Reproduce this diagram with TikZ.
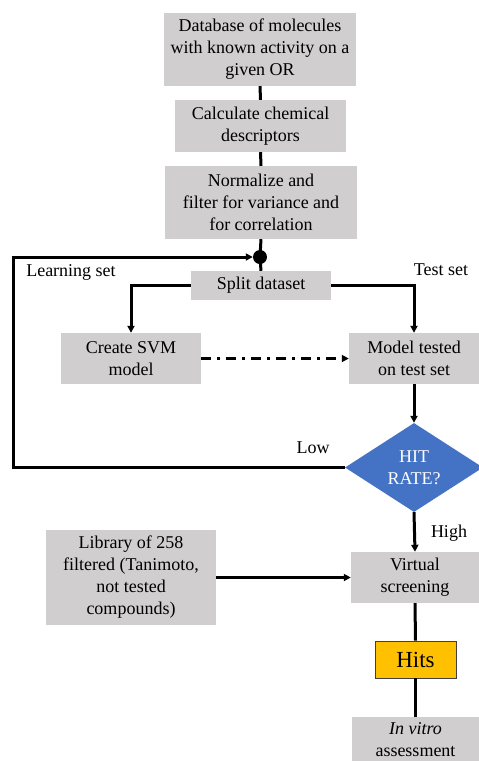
\documentclass[tikz,border=0pt]{standalone}
\usepackage{fontspec}
\setmainfont{Liberation Serif}
\usetikzlibrary{shapes.geometric,arrows.meta}
\definecolor{boxgray}{HTML}{D0CECE}
\definecolor{hitblue}{HTML}{4472C4}
\definecolor{hitsgold}{HTML}{FFC000}
\begin{document}
\begin{tikzpicture}[x=1pt,y=-1pt,
  txt/.style={font=\fontsize{18}{22}\selectfont},
  box/.style={txt, fill=boxgray, align=center, inner sep=0pt},
  lbl/.style={txt, inner sep=0pt},
  link/.style={line width=3pt},
  arr/.style={link, -{Triangle[length=7pt,width=7pt]}},
  dashdot/.style={dash pattern=on 10pt off 6pt on 3pt off 6pt}]
\clip (0,0) rectangle (479,761);
\useasboundingbox (0,0) rectangle (479,761);

% process boxes
\node[box, minimum width=192, minimum height=73] (db) at (260,49.5)
  {Database of molecules\\with known activity on a\\given OR};
\node[box, minimum width=171, minimum height=52] (calc) at (260.5,126)
  {Calculate chemical\\descriptors};
\node[box, minimum width=192, minimum height=73] (norm) at (261,202.5)
  {Normalize and\\filter for variance and\\for correlation};
\node[circle, fill=black, minimum size=14, inner sep=0pt] (dot) at (260,257) {};
\node[box, minimum width=140, minimum height=29] (split) at (261,285.5) {Split dataset};
\node[box, minimum width=140, minimum height=51] (svm) at (131,358.5) {Create SVM\\model};
\node[box, minimum width=130, minimum height=51] (model) at (414,358.5) {Model tested\\on test set};
\node[diamond, fill=hitblue, text=white, txt, align=center, inner sep=0pt,
  minimum width=138, minimum height=89] (hit) at (414,467.5) {HIT\\RATE?};
\node[box, minimum width=128, minimum height=51] (vs) at (415,577.5) {Virtual\\screening};
\node[box, minimum width=170, minimum height=95] (lib) at (131,577.5)
  {Library of 258\\filtered (Tanimoto,\\not tested\\compounds)};
\node[fill=hitsgold, draw=black!75, line width=0.8pt, inner sep=0pt,
  minimum width=81, minimum height=37, font=\fontsize{23}{26}\selectfont] (hits) at (415.5,659.5) {Hits};
\node[box, minimum width=127, minimum height=46] (vitro) at (415.5,740)
  {\textit{In vitro}\\assessment};

% labels
\node[lbl] (lrn) at (71,272) {Learning set};
\node[lbl] (tst) at (441,270) {Test set};
\node[lbl] (low) at (313,448) {Low};
\node[lbl] (high) at (449,533) {High};

% connectors
\coordinate (fb) at (13,257);
\draw[link] (db.south) -- (calc.north);
\draw[link] (calc.south) -- (norm.north);
\draw[link] (norm.south) -- (dot.center) -- (split.north);
\draw[arr] (split.west) -| (svm.north);
\draw[arr] (split.east) -| (model.north);
\draw[arr, dashdot] (svm.east) -- (model.west);
\draw[arr] (model.south) -- (hit.north);
\draw[arr] (hit.west) -| (fb) -- (dot.west);
\draw[arr] (hit.south) -- (vs.north);
\draw[arr] (lib.east) -- (vs.west);
\draw[link] (vs.south) -- (hits.north);
\draw[link] (hits.south) -- (vitro.north);
\end{tikzpicture}
\end{document}
